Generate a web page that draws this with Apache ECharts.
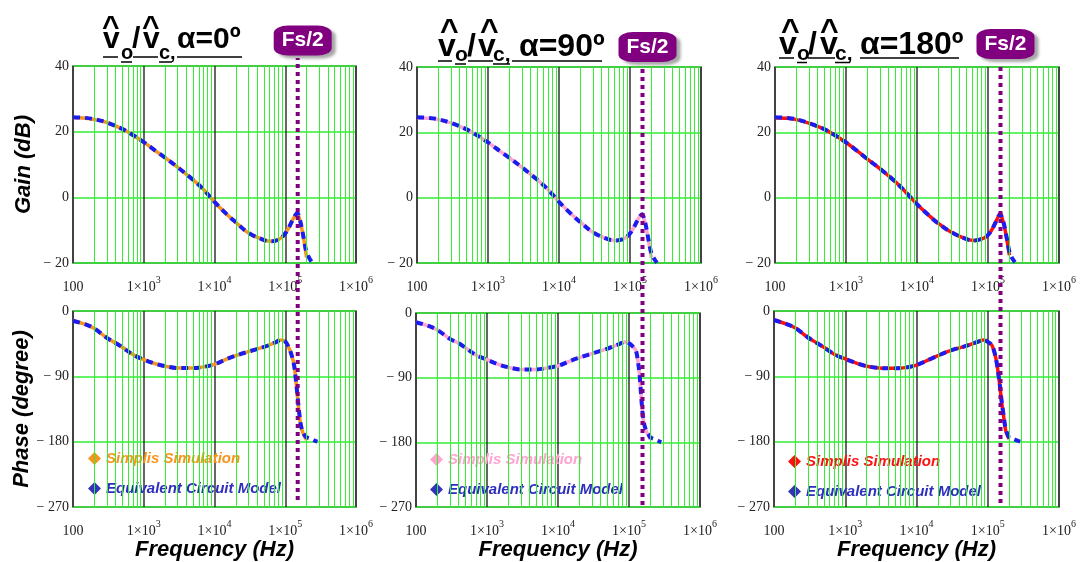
<!DOCTYPE html>
<html><head><meta charset="utf-8">
<script src="https://cdn.jsdelivr.net/npm/echarts@6/dist/echarts.min.js"></script>
<style>html,body{margin:0;padding:0;background:#fff}#c{width:1080px;height:562px}</style>
</head><body><div id="c"></div><script>
// ---------------- DATA ----------------
const xTickValues = [100, 1000, 10000, 100000, 1000000];
const gainTicks = [-20, 0, 20, 40];
const phaseTicks = [-270, -180, -90, 0];
const fsHalf = 150000;
const panelTitles = ['α=0º', 'α=90º', 'α=180º'];
const legendNames = ['Simplis Simulation', 'Equivalent Circuit Model'];

const freqGainSim = [100,150,200,300,500,700,1000,1500,2000,3000,5000,7000,10000,15000,20000,30000,50000,65000,80000,95000,110000,125000,138000,148000,158000,170000,185000,200000];
const freqGainModel = [100,150,200,300,500,700,1000,1500,2000,3000,5000,7000,10000,15000,20000,30000,50000,65000,80000,95000,110000,125000,138000,148000,158000,170000,185000,200000,220000,240000];

const gainSim0 = [24.3,24.1,23.7,22.8,20.8,19.0,16.8,14.0,12.1,9.2,5.3,2.4,-1.4,-5.2,-7.6,-10.8,-13.0,-13.4,-12.9,-11.6,-9.6,-7.2,-5.5,-4.9,-6.4,-9.2,-13.5,-18.3];
const gainModel0 = [24.4,24.2,23.8,22.8,20.8,19.0,16.8,14.0,12.1,9.2,5.3,2.4,-1.4,-5.2,-7.6,-10.8,-13.0,-13.4,-12.9,-11.6,-9.6,-7.2,-5.5,-4.8,-6.2,-9.0,-13.2,-16.8,-18.6,-19.8];
const gainSim1 = [24.5,24.3,23.9,22.9,20.9,19.1,16.9,14.1,12.2,9.3,5.4,2.5,-1.3,-5.1,-7.5,-10.6,-12.8,-13.1,-12.7,-11.5,-9.6,-7.3,-5.7,-5.2,-6.6,-9.6,-14.0,-18.4];
const gainModel1 = [24.6,24.4,24.0,22.9,20.9,19.1,16.9,14.1,12.2,9.3,5.4,2.5,-1.3,-5.1,-7.5,-10.6,-12.8,-13.1,-12.7,-11.5,-9.6,-7.3,-5.7,-5.1,-6.4,-9.3,-13.6,-17.0,-18.8,-19.9];
const gainSim2 = [24.5,24.3,23.9,22.8,20.9,19.1,16.9,14.0,11.8,8.9,4.8,1.6,-2.0,-5.6,-7.9,-10.5,-12.7,-13.1,-12.7,-11.9,-10.3,-8.0,-6.0,-5.1,-6.3,-8.8,-13.0,-17.6];
const gainModel2 = [24.6,24.4,24.0,22.8,20.9,19.1,16.9,14.0,11.8,8.9,4.8,1.6,-2.0,-5.6,-7.9,-10.5,-12.7,-13.1,-12.7,-11.9,-10.3,-8.0,-6.0,-5.0,-6.1,-8.6,-12.7,-16.5,-18.6,-19.8];

const freqPhaseSim = [100,150,200,300,400,500,700,1000,1500,2000,3000,5000,7000,10000,15000,20000,30000,50000,70000,87000,100000,114000,125000,134000,141000,149000,157000,166000,178000,190000,200000];
const freqPhaseModel = [100,150,200,300,400,500,700,1000,1500,2000,3000,5000,7000,10000,15000,20000,30000,50000,70000,87000,100000,114000,125000,134000,141000,149000,157000,166000,178000,190000,200000,230000,260000,285000];

const phaseSim0 = [-13.4,-18.5,-24,-37,-44,-50,-60,-67,-73,-76,-78.5,-78.5,-77,-73.5,-66,-61.5,-56,-49.5,-44,-40,-42,-52,-63,-76,-94,-118,-140,-158,-168,-174,-177.5];
const phaseModel0 = [-13.4,-18.5,-24,-37,-44,-50,-60,-67,-73,-76,-78.5,-78.5,-77,-73.5,-66,-61.5,-56,-49.5,-44,-40,-42,-52,-63,-76,-94,-117,-139,-157,-167,-172,-174,-176,-178.5,-180];
const phaseSim1 = [-12.8,-18,-23.5,-36,-42,-48.5,-58.5,-65,-72,-75.5,-78.5,-78.5,-76.5,-73.5,-66.5,-62,-56.5,-49.5,-44,-40.5,-42,-47,-52,-68,-86,-119,-144,-158,-166,-171,-176];
const phaseModel1 = [-12.8,-18,-23.5,-36,-42,-48.5,-58.5,-65,-72,-75.5,-78.5,-78.5,-76.5,-73.5,-66.5,-62,-56.5,-49.5,-44,-40.5,-42,-47,-52,-68,-86,-118,-143,-157,-165,-169.5,-173,-175.5,-178,-179.5];
const phaseSim2 = [-12.4,-18,-23.5,-36.5,-44,-50,-59.5,-66,-72.5,-76,-78.5,-79,-78,-74.5,-67,-61.5,-54.5,-48,-43,-40,-42.5,-47,-58,-72,-87,-106,-126,-143,-164,-172,-176];
const phaseModel2 = [-12.4,-18,-23.5,-36.5,-44,-50,-59.5,-66,-72.5,-76,-78.5,-79,-78,-74.5,-67,-61.5,-54.5,-48,-43,-40,-42.5,-47,-58,-72,-87,-105,-125,-142,-162,-170,-174,-176.5,-178.5,-180];

// ---------------- STYLE / LAYOUT ----------------
const panels = [
  {gs: gainSim0, gm: gainModel0, ps: phaseSim0, pm: phaseModel0, simColor: '#f7941d', simText: '#f7941d',
   gain: {left: 73, top: 66, width: 283, height: 197}, phase: {left: 73, top: 311, width: 283, height: 196},
   over: {left: 73, top: 58, width: 283, height: 442}, boxOff: -17.5, legend: {left: 83, top: 446}, nameGap: 23, yNames: true},
  {gs: gainSim1, gm: gainModel1, ps: phaseSim1, pm: phaseModel1, simColor: '#ffa3d1', simText: '#ffa3d1',
   gain: {left: 417, top: 67, width: 284, height: 196}, phase: {left: 416, top: 313, width: 284, height: 197},
   over: {left: 417, top: 66, width: 284, height: 439}, boxOff: -19, legend: {left: 425, top: 447}, nameGap: 28, yNames: false},
  {gs: gainSim2, gm: gainModel2, ps: phaseSim2, pm: phaseModel2, simColor: '#ff1010', simText: '#ff1010',
   gain: {left: 775, top: 67, width: 284, height: 196}, phase: {left: 774, top: 311, width: 285, height: 196},
   over: {left: 775, top: 63, width: 284, height: 440}, boxOff: -19, legend: {left: 783, top: 449}, nameGap: 29, yNames: false}
];
const modelColor = '#1c1cf0';
const modelText = '#2e2ebf';
const green = '#33ee33';
const minorX = [];
[100, 1000, 10000, 100000].forEach(d => { for (let k = 2; k <= 9; k++) minorX.push(d * k); });

const pair = (fs, vs) => fs.slice(0, vs.length).map((f, i) => [f, vs[i]]);
const serif = '"Liberation Serif", "Times New Roman", serif';
const sans = '"Liberation Sans", Arial, sans-serif';
const yFmt = v => v < 0 ? '− ' + Math.abs(v) : String(v);
const xFmt = v => { const e = Math.round(Math.log10(v)); return e === 2 ? '{a|100}' : '{a|1×10}{s|' + e + '}'; };
const nameStyle = {fontSize: 22, fontWeight: 'bold', fontStyle: 'italic', fontFamily: sans, color: '#000'};

const grids = [], xAxes = [], yAxes = [], series = [], legends = [];
panels.forEach((p, i) => {
  const gi = grids.length;
  grids.push(Object.assign({show: true, backgroundColor: '#fff', borderColor: '#444', borderWidth: 1.5}, p.gain));
  grids.push(Object.assign({show: true, backgroundColor: '#fff', borderColor: '#444', borderWidth: 1.5}, p.phase));
  grids.push(Object.assign({show: false}, p.over));
  [0, 1].forEach(k => {
    xAxes.push({type: 'log', logBase: 10, gridIndex: gi + k, min: xTickValues[0], max: xTickValues[xTickValues.length - 1],
      axisLine: {show: false}, axisTick: {show: false},
      splitLine: {show: true, lineStyle: {color: '#333', width: 1.5}},
      axisLabel: {margin: 12, formatter: xFmt, showMinLabel: true, showMaxLabel: true,
        rich: {a: {fontSize: 14, fontFamily: serif, color: '#222', padding: [5, 0, 0, 0], verticalAlign: 'bottom'},
               s: {fontSize: 10, fontFamily: serif, color: '#222', verticalAlign: 'top'}}},
      name: k === 1 ? 'Frequency (Hz)' : '', nameLocation: 'middle', nameGap: p.nameGap, nameTextStyle: nameStyle});
    const ticks = k === 0 ? gainTicks : phaseTicks;
    yAxes.push({type: 'value', gridIndex: gi + k, min: ticks[0], max: ticks[ticks.length - 1], interval: ticks[1] - ticks[0],
      axisLine: {show: false}, axisTick: {show: false},
      splitLine: {show: true, lineStyle: {color: green, width: 1.5}},
      axisLabel: {margin: 4, formatter: yFmt, fontSize: 14, fontFamily: serif, color: '#222'},
      name: p.yNames ? (k === 0 ? 'Gain (dB)' : 'Phase (degree)') : '', nameLocation: 'middle', nameRotate: 90, nameGap: 38, nameTextStyle: nameStyle});
    // minor grid lines
    series.push({type: 'line', xAxisIndex: gi + k, yAxisIndex: gi + k, data: [], z: 1, silent: true,
      markLine: {silent: true, symbol: ['none', 'none'], label: {show: false}, animation: false,
        lineStyle: {color: green, width: 1, type: 'solid'}, emphasis: {disabled: true},
        data: minorX.map(v => ({xAxis: v}))}});
    const sData = k === 0 ? pair(freqGainSim, p.gs) : pair(freqPhaseSim, p.ps);
    const mData = k === 0 ? pair(freqGainModel, p.gm) : pair(freqPhaseModel, p.pm);
    series.push({name: 'sim' + i, type: 'line', xAxisIndex: gi + k, yAxisIndex: gi + k, data: sData, z: 3,
      smooth: 0.35, showSymbol: false, symbol: 'none', color: p.simColor,
      lineStyle: {color: p.simColor, width: 3.5}});
    series.push({name: 'model' + i, type: 'line', xAxisIndex: gi + k, yAxisIndex: gi + k, data: mData, z: 4,
      smooth: 0.35, showSymbol: false, symbol: 'none', color: modelColor,
      lineStyle: {color: modelColor, width: 4, type: [7, 5]}});
  });
  xAxes.push({type: 'log', logBase: 10, gridIndex: gi + 2, min: 100, max: 1e6, show: false});
  yAxes.push({type: 'value', gridIndex: gi + 2, min: 0, max: 1, show: false});
  series.push({type: 'line', xAxisIndex: gi + 2, yAxisIndex: gi + 2, z: 10, symbol: 'none', silent: true,
    data: [[fsHalf, 0], [fsHalf, 1]],
    lineStyle: {color: '#800080', width: 4, type: [4, 4], cap: 'butt'},
    markPoint: {silent: true, animation: false,
      data: [{coord: [fsHalf, 1], symbol: 'roundRect', symbolSize: [58, 30], symbolOffset: [5, p.boxOff],
        itemStyle: {color: '#800080', shadowColor: 'rgba(0,0,0,0.35)', shadowBlur: 3, shadowOffsetX: 4, shadowOffsetY: 3},
        label: {show: true, position: 'inside', formatter: 'Fs/2', color: '#fff', fontSize: 21, fontWeight: 'bold', fontFamily: sans}}]}});
  legends.push({left: p.legend.left, top: p.legend.top, orient: 'vertical', itemGap: 15, icon: 'diamond',
    itemWidth: 13, itemHeight: 13, selectedMode: false,
    formatter: n => n.indexOf('sim') === 0 ? legendNames[0] : legendNames[1],
    textStyle: {fontSize: 15, fontWeight: 'bold', fontStyle: 'italic', fontFamily: sans},
    data: [{name: 'sim' + i, itemStyle: {color: p.simColor, borderWidth: 0}, textStyle: {color: p.simText}},
           {name: 'model' + i, itemStyle: {color: '#3333bb', borderWidth: 0}, textStyle: {color: modelText}}]});
});

// ---------------- TITLES (graphic text) ----------------
const titleLayout = [
  {fs: 30, sub: 20, pieces: [['v',103,50],['o',121,60,1],['/',132,50],['v',143,50],['c,',159,60,1],[panelTitles[0],177,50]],
   hats: [[102,38],[142,38]], lines: [[57,103,118],[62,121,132],[57,133,158],[62,159,172],[57,177,242]]},
  {fs: 32, sub: 21, pieces: [['v',438,58],['o',455,63,1],['/',467,58],['v',478,58],['c,',493,63,1],[panelTitles[1],519,58]],
   hats: [[440,43.5],[480,43.5]], lines: [[61,438,452],[64,455,466],[61,468,493],[64,493,510],[61,512,602]]},
  {fs: 32, sub: 21, pieces: [['v',779,56],['o',797,62,1],['/',808,56],['v',820,56],['c,',835,62,1],[panelTitles[2],860,56]],
   hats: [[781,43],[820,43]], lines: [[58,779,794],[62.5,797,807],[58,808,835],[62.5,835,850],[58,860,959]]}
];
const graphics = [];
function txt(t, x, base, fs) {
  return {type: 'text', x: x, y: base - 0.35 * fs, silent: true,
    style: {text: t, font: 'bold ' + fs + 'px ' + sans, fill: '#000', textAlign: 'left', textVerticalAlign: 'middle', align: 'left', verticalAlign: 'middle'}};
}
titleLayout.forEach(t => {
  t.pieces.forEach(pc => graphics.push(txt(pc[0], pc[1], pc[2], pc[3] ? t.sub : t.fs)));
  t.hats.forEach(h => graphics.push(txt('^', h[0], h[1], t.fs)));
  t.lines.forEach(l => graphics.push({type: 'line', silent: true, shape: {x1: l[1], y1: l[0], x2: l[2], y2: l[0]}, style: {stroke: '#000', lineWidth: 1.5}}));
});

const chart = echarts.init(document.getElementById('c'), null, {renderer: 'canvas'});
chart.setOption({
  animation: false,
  backgroundColor: '#fff',
  grid: grids, xAxis: xAxes, yAxis: yAxes, series: series, legend: legends, graphic: graphics
});
</script></body></html>
